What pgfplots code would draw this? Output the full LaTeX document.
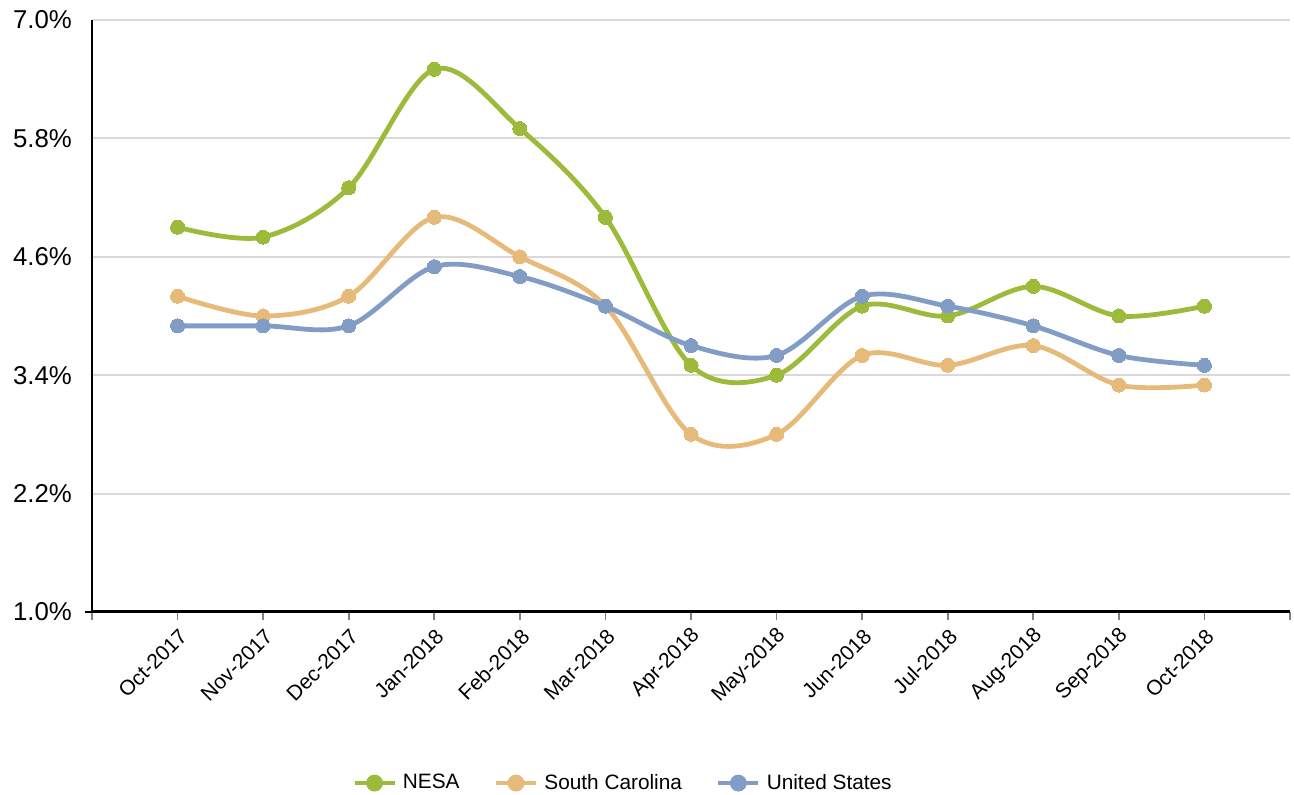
\documentclass[border=0pt]{standalone}
\usepackage{pgfplots}
\pgfplotsset{compat=1.18}
\usepackage{fontspec}
\setmainfont{Liberation Sans}
\definecolor{nesa}{HTML}{9CBB3B}
\definecolor{sc}{HTML}{E6BA78}
\definecolor{us}{HTML}{819DC6}
\definecolor{gridc}{HTML}{D9D9D9}
\begin{document}
\begin{tikzpicture}
\begin{axis}[
  scale only axis,
  width=599pt, height=296pt,
  xmin=-1, xmax=13, ymin=1, ymax=7,
  axis x line=bottom, axis y line=left,
  axis line style={-, black, line width=1.1pt},
  x axis line style={line width=1.5pt},
  xtick={-1,0,...,13},
  xticklabels={,Oct-2017,Nov-2017,Dec-2017,Jan-2018,Feb-2018,Mar-2018,Apr-2018,May-2018,Jun-2018,Jul-2018,Aug-2018,Sep-2018,Oct-2018,},
  xtick style={draw=gray, line width=0.8pt},
  xtick align=outside, major tick length=4pt,
  xticklabel style={font=\fontsize{10.5pt}{12pt}\selectfont, rotate=45, anchor=east, xshift=1pt, yshift=-6.5pt},
  ytick={1,2.2,3.4,4.6,5.8,7},
  yticklabels={1.0\%,2.2\%,3.4\%,4.6\%,5.8\%,7.0\%},
  ytick style={draw=none},
  extra y ticks={1}, extra y tick labels={},
  extra y tick style={ytick style={draw=black, line width=0.8pt}, major tick length=7pt, grid=none},
  yticklabel style={font=\fontsize{12.9pt}{15pt}\selectfont, xshift=-4.5pt},
  ymajorgrids, grid style={gridc, line width=1pt},
  /pgf/number format/assume math mode=true,
  clip=false,
  legend columns=-1,
  legend style={draw=none, fill=none, at={(0.444,-0.289)}, anchor=center,
    font=\fontsize{10.4pt}{12pt}\selectfont,
    /tikz/every odd column/.append style={column sep=1pt},
    /tikz/every even column/.append style={column sep=15pt}},
  legend image code/.code={
    \draw[#1, mark=none, line width=2.4pt] (0pt,0pt) -- (20pt,0pt);
    \fill[#1] (10pt,0pt) circle (3pt);
  },
  every axis plot/.append style={line width=2.4pt, smooth, tension=0.55, mark=*, mark size=3.5pt},
]
\addplot[nesa, mark options={fill=nesa, draw=nesa, line width=0pt}] coordinates {
(0,4.9) (1,4.8) (2,5.3) (3,6.5) (4,5.9) (5,5.0) (6,3.5) (7,3.4) (8,4.1) (9,4.0) (10,4.3) (11,4.0) (12,4.1)};
\addlegendentry{NESA}
\addplot[sc, mark options={fill=sc, draw=sc, line width=0pt}] coordinates {
(0,4.2) (1,4.0) (2,4.2) (3,5.0) (4,4.6) (5,4.1) (6,2.8) (7,2.8) (8,3.6) (9,3.5) (10,3.7) (11,3.3) (12,3.3)};
\addlegendentry{South Carolina}
\addplot[us, mark options={fill=us, draw=us, line width=0pt}] coordinates {
(0,3.9) (1,3.9) (2,3.9) (3,4.5) (4,4.4) (5,4.1) (6,3.7) (7,3.6) (8,4.2) (9,4.1) (10,3.9) (11,3.6) (12,3.5)};
\addlegendentry{United States}
\coordinate (bl) at (rel axis cs:0,0);
\coordinate (tr) at (rel axis cs:1,1);
\end{axis}
\pgfresetboundingbox
\path[use as bounding box] ([xshift=-46pt,yshift=-91.5pt]bl) rectangle ([xshift=2pt,yshift=10pt]tr);
\end{tikzpicture}
\end{document}
